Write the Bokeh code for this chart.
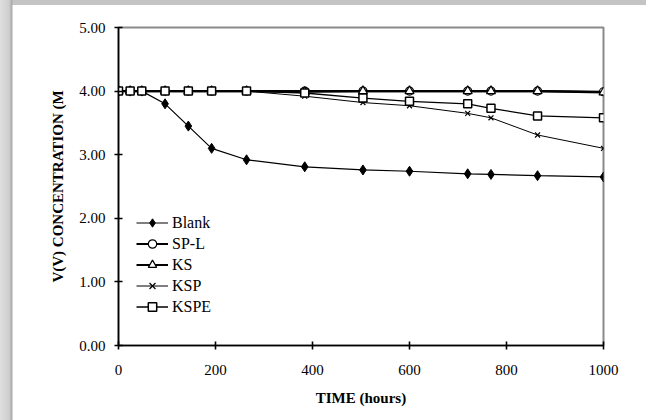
from bokeh.plotting import figure
from bokeh.models import Range1d, FixedTicker, NumeralTickFormatter, Legend, LegendItem
from bokeh.embed import file_html
from bokeh.resources import INLINE

# ---- data ----
time_h = [0, 24, 48, 96, 144, 192, 264, 384, 504, 600, 720, 768, 864, 1000]
blank = [4.00, 4.00, 4.00, 3.80, 3.45, 3.10, 2.92, 2.81, 2.76, 2.74, 2.70, 2.69, 2.67, 2.65]
sp_l = [4.00, 4.00, 4.00, 4.00, 4.00, 4.00, 4.00, 4.00, 4.00, 4.00, 4.00, 4.00, 4.00, 3.99]
ks = [4.00, 4.00, 4.00, 4.00, 4.00, 4.00, 4.00, 3.99, 4.00, 4.00, 4.00, 4.00, 4.00, 3.98]
ksp = [4.00, 4.00, 4.00, 4.00, 4.00, 4.00, 4.00, 3.92, 3.82, 3.77, 3.65, 3.58, 3.31, 3.10]
kspe = [4.00, 4.00, 4.00, 4.00, 4.00, 4.00, 4.00, 3.97, 3.89, 3.84, 3.80, 3.73, 3.61, 3.58]
x_ticks = [0, 200, 400, 600, 800, 1000]
y_ticks = [0, 1, 2, 3, 4, 5]

FONT = "Liberation Serif"

p = figure(width=646, height=420, output_backend="svg", toolbar_location=None,
           x_range=Range1d(0, 1000), y_range=Range1d(0, 5),
           min_border_left=118, min_border_right=43, min_border_top=27, min_border_bottom=75)
p.border_fill_alpha = 0
p.background_fill_color = "white"
p.styles = {"background": "linear-gradient(to right,#dedede 0px,#cfcfcf 9px,#a9a9a9 12px,rgba(255,255,255,0) 13px),"
                          "linear-gradient(to bottom,#c4c4c4 0px,#c4c4c4 5px,#ffffff 5px)"}
p.outline_line_color = "#8a8a8a"
p.outline_line_width = 2
p.xgrid.visible = False
p.ygrid.visible = False

for ax in (p.xaxis[0], p.yaxis[0]):
    ax.axis_line_color = "black"
    ax.axis_line_width = 1.6
    ax.major_tick_line_color = "black"
    ax.major_tick_line_width = 1.6
    ax.major_tick_in = 4
    ax.major_tick_out = 4
    ax.minor_tick_line_color = None
    ax.major_label_text_font = FONT
    ax.major_label_text_font_size = "15px"
    ax.major_label_text_color = "black"
    ax.axis_label_text_font = FONT
    ax.axis_label_text_font_style = "bold"
    ax.axis_label_text_font_size = "15px"
    ax.axis_label_text_color = "black"

p.xaxis.ticker = FixedTicker(ticks=x_ticks)
p.yaxis.ticker = FixedTicker(ticks=y_ticks)
p.yaxis.formatter = NumeralTickFormatter(format="0.00")
p.xaxis.major_label_standoff = 15
p.yaxis.major_label_standoff = 9
p.xaxis.axis_label = "TIME (hours)"
p.yaxis.axis_label = "V(V) CONCENTRATION (M"
p.xaxis.axis_label_standoff = 12
p.yaxis.axis_label_standoff = 10

items = []
r = p.line(time_h, blank, line_color="black", line_width=1.2)
m = p.scatter(time_h, blank, marker="diamond", size=10, fill_color="black", line_color="black")
items.append(LegendItem(label="Blank", renderers=[r, m]))

r = p.line(time_h, sp_l, line_color="black", line_width=2.2)
m = p.scatter(time_h, sp_l, marker="circle", size=8, fill_color="white", line_color="black", line_width=1.2)
items.append(LegendItem(label="SP-L", renderers=[r, m]))

r = p.line(time_h, ks, line_color="black", line_width=2.2)
m = p.scatter(time_h, ks, marker="triangle", size=9, fill_color="white", line_color="black", line_width=1.2)
items.append(LegendItem(label="KS", renderers=[r, m]))

r = p.line(time_h, ksp, line_color="black", line_width=1.0)
m = p.scatter(time_h, ksp, marker="x", size=7, line_color="black", line_width=1.2)
items.append(LegendItem(label="KSP", renderers=[r, m]))

r = p.line(time_h, kspe, line_color="black", line_width=1.3)
m = p.scatter(time_h, kspe, marker="square", size=8, fill_color="white", line_color="black", line_width=1.5)
items.append(LegendItem(label="KSPE", renderers=[r, m]))

legend = Legend(items=items, location=(18, 28), padding=0, margin=0, spacing=0,
                label_height=21, glyph_height=21, glyph_width=32, label_standoff=4,
                label_text_font=FONT, label_text_font_size="16px", label_text_color="black",
                border_line_color=None, background_fill_alpha=0)
p.add_layout(legend, "center")

open("out.html", "w").write(file_html(p, INLINE))
